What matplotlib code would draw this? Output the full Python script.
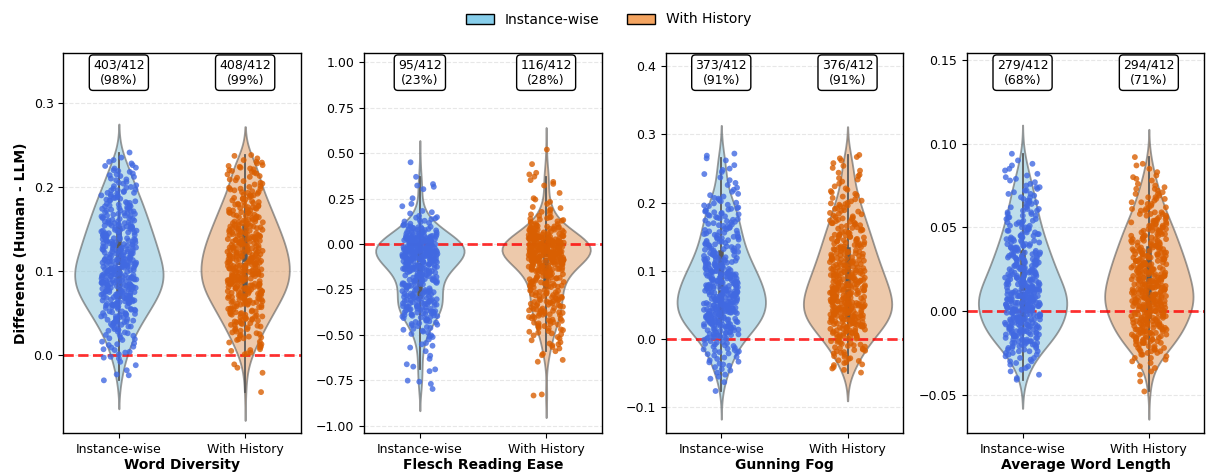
import numpy as np
import pandas as pd
import matplotlib
matplotlib.use("Agg")
import matplotlib.pyplot as plt
import matplotlib.transforms as mtransforms
from matplotlib.patches import Patch
from matplotlib.ticker import MultipleLocator
import seaborn as sns

# ---------------- data (values in thousandths, Human - LLM) ----------------
metric_names = ["Word Diversity", "Flesch Reading Ease", "Gunning Fog", "Average Word Length"]
condition_names = ["Instance-wise", "With History"]

wd_inst = [-30,-24,-23,-18,-12,-8,-4,-3,-2,
1,3,4,6,7,9,10,12,13,14,16,18,19,
20,21,23,24,24,26,27,28,29,30,31,31,33,34,34,35,36,37,37,38,39,39,
40,40,41,41,42,43,43,44,45,45,46,46,47,48,48,49,49,50,50,51,52,52,53,54,54,55,55,56,57,57,58,58,59,59,
60,60,61,61,61,62,62,63,63,63,64,64,65,65,65,66,66,67,67,67,68,68,69,69,69,70,70,71,71,71,72,72,73,73,73,74,74,75,75,75,76,76,77,77,77,78,78,79,79,
80,80,80,81,81,81,82,82,82,83,83,83,84,84,84,85,85,85,86,86,86,87,87,87,88,88,88,89,89,89,90,90,90,91,91,91,92,92,92,93,93,93,94,94,94,95,95,95,96,96,96,97,97,98,98,99,99,
100,100,100,101,101,101,102,102,102,103,103,103,104,104,104,105,105,105,106,106,106,107,107,107,108,108,108,109,109,109,110,110,110,111,111,111,112,112,112,113,113,113,114,114,114,115,115,116,116,117,117,118,118,119,119,
120,120,121,121,121,122,122,123,123,124,124,124,125,125,126,126,126,127,127,128,128,128,129,129,130,130,131,131,131,132,132,133,133,133,134,134,135,135,135,136,136,137,137,138,138,138,139,139,
140,140,141,141,142,142,143,143,144,144,145,145,146,146,147,147,148,148,149,149,150,150,151,151,152,152,153,153,154,154,155,155,156,156,157,157,158,158,159,159,
160,160,161,162,162,163,163,164,165,165,166,166,167,168,168,169,169,170,171,171,172,172,173,174,174,175,175,176,177,177,178,178,179,
180,181,181,182,183,184,184,185,186,187,187,188,189,190,190,191,192,193,193,194,195,196,196,197,198,199,
200,201,202,204,205,206,208,209,210,212,213,214,215,216,218,219,
220,222,223,225,226,228,230,232,235,241]

wd_hist = [-44,-21,-15,-11,
1,2,3,5,6,7,9,10,12,13,15,16,18,19,
20,21,22,23,24,25,26,27,28,29,30,31,32,33,34,35,36,36,37,38,38,39,
40,40,41,42,42,43,43,44,45,45,46,46,47,48,48,49,49,50,51,51,52,52,53,54,54,55,55,56,57,57,58,58,59,
60,60,61,61,61,62,62,63,63,64,64,64,65,65,66,66,67,67,67,68,68,69,69,70,70,70,71,71,72,72,73,73,73,74,74,75,75,76,76,76,77,77,78,78,79,79,79,
80,80,80,81,81,81,82,82,83,83,83,84,84,84,85,85,85,86,86,86,87,87,88,88,88,89,89,89,90,90,90,91,91,91,92,92,93,93,93,94,94,94,95,95,95,96,96,96,97,97,97,98,98,99,99,99,
100,100,100,101,101,101,102,102,103,103,103,104,104,104,105,105,106,106,106,107,107,107,108,108,108,109,109,110,110,110,111,111,111,112,112,113,113,113,114,114,114,115,115,115,116,116,116,117,117,118,118,118,119,119,119,
120,120,120,121,121,122,122,122,123,123,124,124,124,125,125,126,126,126,127,127,128,128,128,129,129,130,130,130,131,131,132,132,132,133,133,134,134,134,135,135,136,136,136,137,137,138,138,138,139,139,
140,140,141,141,142,142,143,143,143,144,144,145,145,146,146,147,147,148,148,149,149,150,150,151,151,151,152,152,153,153,154,154,155,155,156,156,157,157,158,158,159,159,
160,160,161,161,162,163,163,164,164,165,166,166,167,167,168,169,169,170,170,171,172,172,173,173,174,175,175,176,176,177,178,178,179,179,
180,181,182,182,183,184,185,186,186,187,188,189,190,190,191,192,193,194,194,195,196,197,198,198,199,
200,201,203,204,205,207,208,209,211,212,213,215,216,217,218,219,
220,221,222,223,224,225,226,228,229,230,232,234,237,238]

fre_inst = [450,370,330,322,315,302,252,221,208,
182,175,168,155,
148,145,141,137,133,128,124,120,116,112,108,103,
99,97,95,93,91,89,87,85,83,81,79,77,75,73,71,69,67,65,63,61,58,56,54,51,
49,48,47,46,45,44,43,42,41,40,39,38,37,36,35,34,33,32,31,30,29,28,27,26,25,24,23,22,21,20,19,18,17,16,15,14,13,12,11,10,9,8,6,5,3,1,
-1,-2,-3,-4,-5,-6,-7,-8,-9,-10,-11,-12,-13,-14,-15,-16,-17,-18,-19,-20,-21,-22,-23,-24,-25,-26,-27,-28,-29,-30,-31,-32,-33,-34,-35,-36,-37,-38,-39,-40,-41,-42,-43,-44,-45,-46,-47,-48,-49,-50,
-2,-6,-10,-14,-18,-22,-26,-30,-34,-38,-42,
-51,-52,-53,-54,-55,-56,-57,-58,-59,-60,-61,-62,-63,-64,-65,-66,-67,-68,-69,-70,-71,-72,-73,-74,-75,-76,-77,-78,-79,-80,-81,-82,-83,-84,-85,-86,-87,-88,-89,-90,-91,-92,-93,-94,-95,-96,-97,-98,-99,-100,-60,-80,
-102,-103,-104,-106,-107,-108,-110,-111,-112,-114,-115,-116,-118,-119,-120,-122,-123,-124,-126,-127,-128,-130,-131,-132,-134,-135,-136,-138,-139,-140,-142,-143,-144,-146,-147,-149,
-151,-153,-155,-157,-159,-161,-163,-165,-167,-169,-171,-173,-175,-177,-179,-181,-183,-185,-187,-189,-191,-193,-195,-197,-199,-200,
-202,-204,-206,-208,-210,-212,-214,-216,-218,-220,-222,-224,-226,-228,-230,-232,-234,-236,-238,-240,-244,-248,
-251,-253,-255,-257,-259,-261,-263,-265,-267,-269,-271,-273,-275,-277,-279,-281,-283,-285,-287,-289,-291,-293,-295,-297,
-300,-302,-304,-306,-308,-310,-312,-314,-316,-318,-320,-322,-324,-326,-328,-330,-332,-334,-336,-338,-340,-342,-344,-346,-348,-311,-327,-343,
-351,-353,-355,-357,-359,-361,-363,-365,-367,-369,-371,-373,-375,-377,-379,-381,-383,-385,-387,-389,-391,-393,-395,-397,-399,
-402,-405,-408,-411,-414,-417,-420,-423,-426,-429,-432,-436,-440,-444,-448,
-452,-457,-462,-467,-472,-477,-482,-488,-495,
-503,-510,-512,-525,-545,-552,-560,-570,-590,-615,-632,-662,-675,-690,-700,-752,-758,-770,-798]

fre_hist = [520,440,392,383,371,352,342,331,322,281,252,
245,232,221,204,
198,191,184,177,170,163,155,
149,146,142,139,135,132,128,125,121,118,114,110,106,102,
99,97,96,94,92,91,89,87,86,84,82,80,79,77,75,73,71,70,68,66,64,62,61,59,57,55,53,51,
1,2,3,4,5,6,7,8,9,10,11,12,13,14,15,16,17,18,19,20,21,22,23,24,25,26,27,28,29,30,31,32,33,34,35,36,37,38,39,40,41,42,43,44,45,46,47,48,49,50,10,30,
-1,-2,-3,-4,-5,-6,-7,-8,-9,-10,-11,-12,-13,-14,-15,-16,-17,-18,-19,-20,-21,-22,-23,-24,-25,-26,-27,-28,-29,-30,-31,-32,-33,-34,-35,-36,-37,-38,-39,-40,-41,-42,-43,-44,-45,-46,-47,-48,-49,-50,
-2,-5,-8,-11,-14,-17,-20,-23,-26,-29,-32,-35,-38,-41,-44,-47,-49,-50,
-51,-52,-53,-54,-55,-56,-57,-58,-59,-60,-61,-62,-63,-64,-65,-66,-67,-68,-69,-70,-71,-72,-73,-74,-75,-76,-77,-78,-79,-80,-81,-82,-83,-84,-85,-86,-87,-88,-89,-90,-91,-92,-93,-94,-95,-96,-97,-98,-99,-100,-55,-70,-85,
-101,-103,-104,-106,-107,-109,-110,-112,-113,-115,-116,-118,-119,-121,-122,-124,-125,-127,-128,-130,-131,-133,-134,-136,-137,-139,-140,-142,-143,-145,-146,-148,-149,-150,
-152,-154,-156,-158,-160,-162,-164,-166,-168,-170,-172,-174,-176,-178,-180,-182,-184,-186,-188,-190,-192,-194,
-201,-203,-205,-207,-209,-211,-213,-215,-217,-219,-221,-223,-225,-227,-229,-231,-233,-235,-237,-239,
-251,-253,-256,-258,-261,-263,-266,-268,-271,-273,-276,-278,-281,-283,-286,-288,-291,-293,-296,-298,
-301,-304,-306,-309,-311,-314,-316,-319,-321,-324,-326,-329,-331,-334,-336,-339,-342,-345,-348,
-352,-355,-357,-360,-363,-365,-368,-371,-373,-376,-379,-381,-384,-387,-389,-392,-395,-398,
-402,-405,-409,-412,-416,-419,-423,-426,-430,-433,-437,-440,-444,-447,
-452,-456,-461,-465,-470,-474,-479,-483,-488,-492,-497,
-503,-512,-520,-530,-541,-548,-552,-558,-567,-575,-590,-605,-612,-638,-648,-828,-834]

gf_inst = [-76,-63,-58,-55,-52,-49,-46,-44,-41,
-39,-37,-36,-34,-33,-31,-29,-27,-26,-24,-22,-21,
-20,-19,-18,-17,-16,-15,-14,-13,-11,-10,-9,-8,-7,-6,-5,-4,-3,-1,
1,1,2,3,3,4,4,5,6,6,7,7,8,9,9,10,10,11,12,12,13,13,14,15,15,16,16,17,17,18,18,19,19,
20,20,21,21,21,22,22,23,23,23,24,24,25,25,26,26,26,27,27,28,28,28,29,29,30,30,31,31,31,32,32,33,33,33,34,34,35,35,36,36,36,37,37,38,38,38,39,39,
40,40,40,41,41,42,42,42,43,43,43,44,44,45,45,45,46,46,46,47,47,48,48,48,49,49,49,50,50,51,51,51,52,52,52,53,53,54,54,54,55,55,55,56,56,57,57,57,58,58,58,59,59,
60,60,61,61,61,62,62,63,63,63,64,64,65,65,65,66,66,67,67,67,68,68,69,69,69,70,70,71,71,71,72,72,73,73,73,74,74,75,75,75,76,76,77,77,77,78,78,79,79,
80,80,81,81,82,82,83,83,83,84,84,85,85,86,86,87,87,88,88,89,89,89,90,90,91,91,92,92,93,93,94,94,95,95,95,96,96,97,97,98,98,99,99,
100,100,101,101,102,103,103,104,104,105,105,106,107,107,108,108,109,109,110,111,111,112,112,113,113,114,115,115,116,116,117,117,118,119,119,
120,121,121,122,123,124,124,125,126,127,127,128,129,130,130,131,132,133,133,134,135,136,136,137,138,139,139,
140,141,142,143,143,144,145,146,147,148,149,149,150,151,152,153,154,155,155,156,157,158,159,
160,161,162,163,164,165,166,167,168,169,170,171,172,173,174,175,176,177,178,179,
180,181,182,183,184,185,186,187,188,189,190,191,192,193,195,196,197,199,
200,202,204,206,207,209,211,213,216,219,
222,226,229,233,237,242,245,248,250,255,262,265,269,272]

gf_hist = [-49,-45,-43,-41,
-38,-37,-35,-34,-32,-31,-29,-28,-26,-25,-23,-21,
-20,-19,-18,-17,-16,-15,-14,-13,-12,-11,-10,-9,-8,-7,-6,-5,-4,-3,-2,-1,
1,1,2,2,3,4,4,5,5,6,6,7,8,8,9,9,10,11,11,12,12,13,13,14,15,15,16,16,17,17,18,18,19,19,
20,20,21,21,22,22,22,23,23,24,24,25,25,25,26,26,27,27,28,28,28,29,29,30,30,31,31,31,32,32,33,33,34,34,34,35,35,36,36,36,37,37,38,38,39,39,39,
40,40,40,41,41,41,42,42,43,43,43,44,44,44,45,45,46,46,46,47,47,47,48,48,49,49,49,50,50,50,51,51,52,52,52,53,53,53,54,54,55,55,55,56,56,56,57,57,58,58,59,59,
60,60,61,61,62,62,62,63,63,64,64,65,65,65,66,66,67,67,68,68,68,69,69,70,70,71,71,71,72,72,73,73,74,74,74,75,75,76,76,76,77,77,78,78,78,79,79,
80,80,81,81,82,82,83,83,84,84,85,85,86,86,87,87,88,88,89,89,90,90,91,91,92,92,93,93,94,94,95,95,96,96,97,97,98,98,99,99,
100,100,101,101,102,102,103,104,104,105,105,106,106,107,108,108,109,109,110,110,111,112,112,113,113,114,114,115,116,116,117,117,118,118,119,
120,120,121,122,122,123,124,124,125,126,126,127,128,128,129,130,130,131,132,132,133,134,134,135,136,136,137,138,138,139,
140,141,141,142,143,144,144,145,146,147,147,148,149,150,150,151,152,153,153,154,155,156,156,157,158,159,
160,161,162,163,164,165,166,167,168,169,170,170,171,172,173,174,175,176,177,178,179,
180,181,183,184,185,187,188,189,191,192,193,195,196,197,198,199,
200,202,203,205,207,209,211,213,215,217,219,
221,224,228,231,234,236,239,241,244,247,251,254,258,262,265,267,270]

awl_inst = [-41,-40,-38,-36,-35,-34,-33,-32,-31,
-30,-30,-29,-28,-28,-27,-26,-26,
-25,-25,-24,-24,-24,-23,-23,-22,-22,-22,-21,-21,-21,
-20,-20,-20,-20,-19,-19,-19,-19,-18,-18,-18,-18,-17,-17,-17,-17,-16,-16,-16,
-15,-15,-15,-15,-15,-14,-14,-14,-14,-14,-13,-13,-13,-13,-13,-12,-12,-12,-12,-12,-11,-11,-11,-11,
-10,-10,-10,-10,-10,-10,-9,-9,-9,-9,-9,-9,-8,-8,-8,-8,-8,-7,-7,-7,-7,-7,-7,-6,-6,-6,-6,-6,
-5,-5,-5,-5,-5,-5,-4,-4,-4,-4,-4,-4,-3,-3,-3,-3,-3,-2,-2,-2,-2,-2,-1,-1,-1,-1,-1,0,0,0,0,0,
1,1,1,1,1,1,2,2,2,2,2,2,2,3,3,3,3,3,3,4,4,4,4,4,4,4,5,5,5,5,5,5,
6,6,6,6,6,6,7,7,7,7,7,7,8,8,8,8,8,8,8,9,9,9,9,9,9,10,10,10,10,10,10,
11,11,11,11,11,11,12,12,12,12,12,13,13,13,13,13,13,14,14,14,14,14,15,15,15,15,15,15,
16,16,16,16,16,17,17,17,17,17,18,18,18,18,18,19,19,19,19,19,20,20,20,20,
21,21,21,21,21,22,22,22,22,23,23,23,23,23,24,24,24,24,25,25,25,25,25,
26,26,26,26,27,27,27,27,28,28,28,28,29,29,29,29,30,30,30,30,
31,31,31,31,32,32,32,32,33,33,33,33,34,34,34,34,35,35,35,
36,36,36,37,37,37,38,38,38,38,39,39,39,40,40,40,
41,41,41,42,42,42,43,43,43,44,44,44,45,45,45,
46,46,46,47,47,48,48,48,49,49,50,50,50,
51,51,52,52,53,53,53,54,54,55,55,
56,56,57,57,58,58,59,59,60,60,
61,61,62,62,63,64,64,65,65,66,66,67,68,68,69,70,70,
71,72,72,73,74,74,75,76,77,78,79,80,81,82,84,85,87,88,90,94]

awl_hist = [-48,-42,-38,-36,-34,-33,-31,-30,
-29,-28,-28,-27,-26,-26,-25,-25,
-24,-24,-24,-23,-23,-23,-22,-22,-22,-21,-21,-20,-20,
-19,-19,-19,-19,-18,-18,-18,-18,-17,-17,-17,-17,-16,-16,-16,-16,-15,-15,-15,
-14,-14,-14,-14,-13,-13,-13,-13,-13,-12,-12,-12,-12,-11,-11,-11,-11,-11,-10,-10,-10,-10,
-9,-9,-9,-9,-9,-8,-8,-8,-8,-8,-7,-7,-7,-7,-7,-6,-6,-6,-6,-6,-5,-5,-5,-5,
-4,-4,-4,-4,-4,-3,-3,-3,-3,-3,-2,-2,-2,-2,-2,-1,-1,-1,-1,-1,0,0,0,0,
1,1,1,1,1,1,2,2,2,2,2,2,3,3,3,3,3,3,4,4,4,4,4,4,5,5,5,5,5,5,
6,6,6,6,6,6,7,7,7,7,7,7,8,8,8,8,8,8,9,9,9,9,9,9,10,10,10,10,10,
11,11,11,11,11,11,12,12,12,12,12,13,13,13,13,13,13,14,14,14,14,14,15,15,15,15,15,15,
16,16,16,16,16,17,17,17,17,17,18,18,18,18,18,18,19,19,19,19,19,20,20,20,20,20,
21,21,21,21,21,22,22,22,22,22,23,23,23,23,23,24,24,24,24,24,25,25,25,25,25,
26,26,26,26,26,27,27,27,27,28,28,28,28,28,29,29,29,29,30,30,30,30,30,
31,31,31,31,32,32,32,32,32,33,33,33,33,34,34,34,34,34,35,35,35,35,
36,36,36,36,37,37,37,37,38,38,38,38,39,39,39,39,40,40,40,
41,41,41,41,42,42,42,43,43,43,43,44,44,44,45,45,45,45,
46,46,46,47,47,47,48,48,48,48,49,49,49,50,50,50,
51,51,51,52,52,52,53,53,53,54,54,54,55,55,
56,56,57,57,58,58,58,59,59,60,60,
61,61,62,62,63,64,64,65,65,66,67,67,68,68,69,70,70,
71,72,73,73,74,75,76,78,79,80,81,83,85,87,88,92]

series = [(wd_inst, wd_hist), (fre_inst, fre_hist), (gf_inst, gf_hist), (awl_inst, awl_hist)]

# ---------------- styling / layout ----------------
y_limits = [(-0.093, 0.359), (-1.042, 1.05), (-0.138, 0.419), (-0.073, 0.154)]
y_steps = [0.1, 0.25, 0.1, 0.05]
fill_colors = ["skyblue", "sandybrown"]
point_colors = ["royalblue", "#d95f02"]

np.random.seed(7)  # reproducible strip jitter
W, H = 1210, 475
fig = plt.figure(figsize=(W / 100, H / 100), dpi=100)
lefts = [63.3, 364.3, 665.7, 967.0]

for i, name in enumerate(metric_names):
    ax = fig.add_axes([lefts[i] / W, 41.7 / H, 237.4 / W, 380.0 / H])
    a = np.array(series[i][0], dtype=float) / 1000.0
    b = np.array(series[i][1], dtype=float) / 1000.0
    df = pd.DataFrame({
        "Condition": [condition_names[0]] * len(a) + [condition_names[1]] * len(b),
        "Value": np.concatenate([a, b]),
    })
    sns.violinplot(data=df, x="Condition", y="Value", hue="Condition",
                   order=condition_names, hue_order=condition_names,
                   palette=fill_colors, inner="box", width=0.7,
                   linewidth=1.3, linecolor="0.35", alpha=0.6,
                   inner_kws=dict(box_width=4, whis_width=1.3, color="0.35"),
                   legend=False, ax=ax)
    ax.axhline(0, color="red", linestyle="--", linewidth=2, alpha=0.8, zorder=2)
    sns.stripplot(data=df, x="Condition", y="Value", hue="Condition",
                  order=condition_names, hue_order=condition_names,
                  palette=point_colors, size=4.2, alpha=0.8, jitter=0.14,
                  linewidth=0, legend=False, ax=ax, zorder=3)

    ax.set_xlim(-0.44, 1.44)
    ax.set_ylim(*y_limits[i])
    ax.yaxis.set_major_locator(MultipleLocator(y_steps[i]))
    ax.grid(axis="y", linestyle="--", alpha=0.3)
    ax.grid(axis="x", visible=False)
    ax.set_axisbelow(True)
    ax.tick_params(axis="both", labelsize=9)
    ax.set_xlabel(name, fontsize=10, fontweight="bold", labelpad=1.5)
    if i == 0:
        ax.set_ylabel("Difference (Human - LLM)", fontsize=10, fontweight="bold")
    else:
        ax.set_ylabel("")
    for sp in ax.spines.values():
        sp.set_linewidth(1.0)

    trans = mtransforms.blended_transform_factory(ax.transData, ax.transAxes)
    for j, arr in enumerate([a, b]):
        pos = int((arr > 0).sum())
        n = len(arr)
        ax.text(j, 0.949, f"{pos}/{n}\n({100 * pos / n:.0f}%)", transform=trans,
                ha="center", va="center", fontsize=9, zorder=5,
                bbox=dict(boxstyle="round,pad=0.3", facecolor="white",
                          edgecolor="black", linewidth=1))

handles = [Patch(facecolor=fill_colors[0], edgecolor="black", label=condition_names[0]),
           Patch(facecolor=fill_colors[1], edgecolor="black", label=condition_names[1])]
fig.legend(handles=handles, loc="upper center", bbox_to_anchor=(0.503, 1.0),
           ncol=2, frameon=False, fontsize=10)

fig.savefig("out.png", dpi=100)
